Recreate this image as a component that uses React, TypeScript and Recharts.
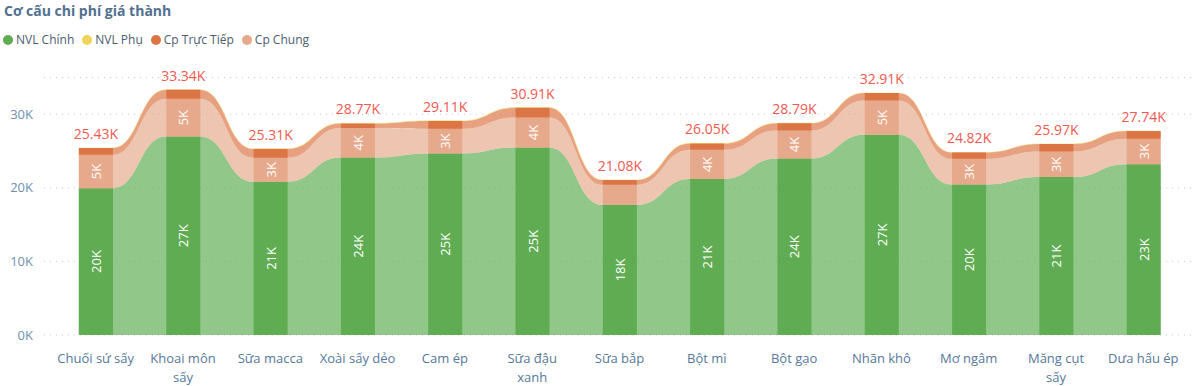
import React from 'react';
import { ComposedChart, Bar, Area, XAxis, YAxis, CartesianGrid, LabelList } from 'recharts';

const categories = [
  'Chuối sứ sấy', 'Khoai môn sấy', 'Sữa macca', 'Xoài sấy dẻo', 'Cam ép', 'Sữa đậu xanh', 'Sữa bắp',
  'Bột mì', 'Bột gạo', 'Nhãn khô', 'Mơ ngâm', 'Măng cụt sấy', 'Dưa hấu ép',
];
const nvlChinh = [19960, 26980, 20820, 24120, 24670, 25480, 17690, 21220, 23990, 27210, 20450, 21460, 23220];
const cpChung = [4530, 5130, 3270, 4000, 3360, 4080, 2720, 3950, 3810, 4670, 3490, 3470, 3440];
const cpTrucTiep = [920, 1210, 1200, 630, 1060, 1330, 650, 860, 970, 1010, 860, 1020, 1060];
const nvlPhu = [20, 20, 20, 20, 20, 20, 20, 20, 20, 20, 20, 20, 20];
const yTicks = [0, 10000, 20000, 30000];

const COLORS = {
  nvlChinh: '#5FAC53',
  nvlPhu: '#F0D45A',
  cpTrucTiep: '#DC7545',
  cpChung: '#E6A98B',
};

const data = categories.map((name, i) => ({
  name,
  nvlChinh: nvlChinh[i],
  cpChung: cpChung[i],
  cpTrucTiep: cpTrucTiep[i],
  nvlPhu: nvlPhu[i],
}));

const HALF = 17;
function ribbonCurve(context: any) {
  let pts: number[][] = [];
  let line: number = NaN;
  return {
    areaStart() { line = 0; },
    areaEnd() { line = NaN; },
    lineStart() { pts = []; },
    point(x: number, y: number) { pts.push([+x, +y]); },
    lineEnd() {
      const n = pts.length;
      if (n) {
        const dir = n > 1 && pts[n - 1][0] < pts[0][0] ? -1 : 1;
        for (let i = 0; i < n; i++) {
          const [x, y] = pts[i];
          const a = x - dir * HALF;
          const b = x + dir * HALF;
          if (i === 0) {
            if (line) context.lineTo(a, y); else context.moveTo(a, y);
          } else {
            const [px, py] = pts[i - 1];
            const pb = px + dir * HALF;
            const m = (pb + a) / 2;
            context.bezierCurveTo(m, py, m, y, a, y);
          }
          context.lineTo(b, y);
        }
      }
      if (line) context.closePath();
      line = 1 - line;
    },
  };
}

const segLabel = (arr: number[]) => (props: any) => {
  const { x, y, width, height, index } = props;
  if (Math.abs(height) < 22) return null;
  const cx = x + width / 2;
  const cy = y + height / 2;
  return (
    <text
      x={cx}
      y={cy}
      transform={`rotate(-90 ${cx} ${cy})`}
      textAnchor="middle"
      dominantBaseline="central"
      fill="#ffffff"
      fontSize={13}
    >
      {Math.round(arr[index] / 1000)}K
    </text>
  );
};

const totalLabel = (props: any) => {
  const { x, y, width, index } = props;
  const total = nvlChinh[index] + cpChung[index] + cpTrucTiep[index] + nvlPhu[index];
  return (
    <text x={x + width / 2} y={y - 9} textAnchor="middle" fill="#EE5A52" fontSize={14}>
      {(total / 1000).toFixed(2)}K
    </text>
  );
};

const FONT = "'Segoe UI', 'Open Sans', 'Noto Sans', sans-serif";

let measureCtx: CanvasRenderingContext2D | null = null;
function measure(s: string): number {
  if (!measureCtx) measureCtx = document.createElement('canvas').getContext('2d');
  if (!measureCtx) return s.length * 6.5;
  measureCtx.font = `13px ${FONT}`;
  return measureCtx.measureText(s).width;
}
function wrapWords(s: string, max: number): string[] {
  const words = s.split(' ');
  const lines: string[] = [];
  let cur = '';
  for (const w of words) {
    const test = cur ? `${cur} ${w}` : w;
    if (cur && measure(test) > max) {
      lines.push(cur);
      cur = w;
    } else {
      cur = test;
    }
  }
  if (cur) lines.push(cur);
  return lines;
}

const XTick = (props: any) => {
  const { x, y, payload } = props;
  const lines = wrapWords(String(payload.value), 77.5);
  return (
    <text x={x} y={y + 20} textAnchor="middle" fill="#56789A" fontSize={13} fontFamily={FONT}>
      {lines.map((l, i) => (
        <tspan key={i} x={x} dy={i === 0 ? 0 : 19}>{l}</tspan>
      ))}
    </text>
  );
};

const legendItems = [
  { label: 'NVL Chính', color: COLORS.nvlChinh },
  { label: 'NVL Phụ', color: COLORS.nvlPhu },
  { label: 'Cp Trực Tiếp', color: COLORS.cpTrucTiep },
  { label: 'Cp Chung', color: COLORS.cpChung },
];

export default function App() {
  return (
    <div style={{ position: 'absolute', left: 0, top: 0, width: 1195, height: 386, background: '#fff', fontFamily: FONT }}>
      <div style={{ position: 'absolute', left: 4, top: 1, fontSize: 14, fontWeight: 700, color: '#52708F' }}>
        Cơ cấu chi phí giá thành
      </div>
      <div style={{ position: 'absolute', left: 3, top: 31, display: 'flex', alignItems: 'center', fontSize: 12, color: '#4A5D6E' }}>
        {legendItems.map((it) => (
          <div key={it.label} style={{ display: 'flex', alignItems: 'center', marginRight: 8 }}>
            <span style={{ width: 10, height: 10, borderRadius: 5, background: it.color, display: 'inline-block', marginRight: 3 }} />
            <span>{it.label}</span>
          </div>
        ))}
      </div>
      <div style={{ position: 'absolute', left: 0, top: 0 }}>
        <ComposedChart
          width={1195}
          height={386}
          data={data}
          margin={{ top: 77.5, right: 0, bottom: 0, left: 0 }}
          style={{ fontFamily: FONT }}
        >
          <CartesianGrid vertical={false} stroke="#C8C8C8" strokeDasharray="1 5" />
          <XAxis
            dataKey="name"
            interval={0}
            tickLine={false}
            axisLine={false}
            height={51}
            padding={{ left: 8, right: 8 }}
            tick={<XTick />}
          />
          <YAxis
            width={44}
            domain={[0, 35000]}
            ticks={yTicks}
            tickLine={false}
            axisLine={false}
            tickMargin={5}
            tick={{ fill: '#6F8FAE', fontSize: 13 }}
            tickFormatter={(v: number) => `${v / 1000}K`}
          />
          <Area dataKey="nvlChinh" stackId="r" type={ribbonCurve as any} fill={COLORS.nvlChinh} fillOpacity={0.68} stroke="none" isAnimationActive={false} />
          <Area dataKey="cpChung" stackId="r" type={ribbonCurve as any} fill={COLORS.cpChung} fillOpacity={0.68} stroke="none" isAnimationActive={false} />
          <Area dataKey="cpTrucTiep" stackId="r" type={ribbonCurve as any} fill={COLORS.cpTrucTiep} fillOpacity={0.68} stroke="none" isAnimationActive={false} />
          <Area dataKey="nvlPhu" stackId="r" type={ribbonCurve as any} fill={COLORS.nvlPhu} fillOpacity={0.7} stroke={COLORS.nvlPhu} strokeOpacity={0.4} strokeWidth={1} isAnimationActive={false} />
          <Bar dataKey="nvlChinh" stackId="b" barSize={34} fill={COLORS.nvlChinh} isAnimationActive={false}>
            <LabelList content={segLabel(nvlChinh)} />
          </Bar>
          <Bar dataKey="cpChung" stackId="b" barSize={34} fill={COLORS.cpChung} isAnimationActive={false}>
            <LabelList content={segLabel(cpChung)} />
          </Bar>
          <Bar dataKey="cpTrucTiep" stackId="b" barSize={34} fill={COLORS.cpTrucTiep} isAnimationActive={false} />
          <Bar dataKey="nvlPhu" stackId="b" barSize={34} fill={COLORS.nvlPhu} isAnimationActive={false}>
            <LabelList content={totalLabel} />
          </Bar>
        </ComposedChart>
      </div>
    </div>
  );
}
